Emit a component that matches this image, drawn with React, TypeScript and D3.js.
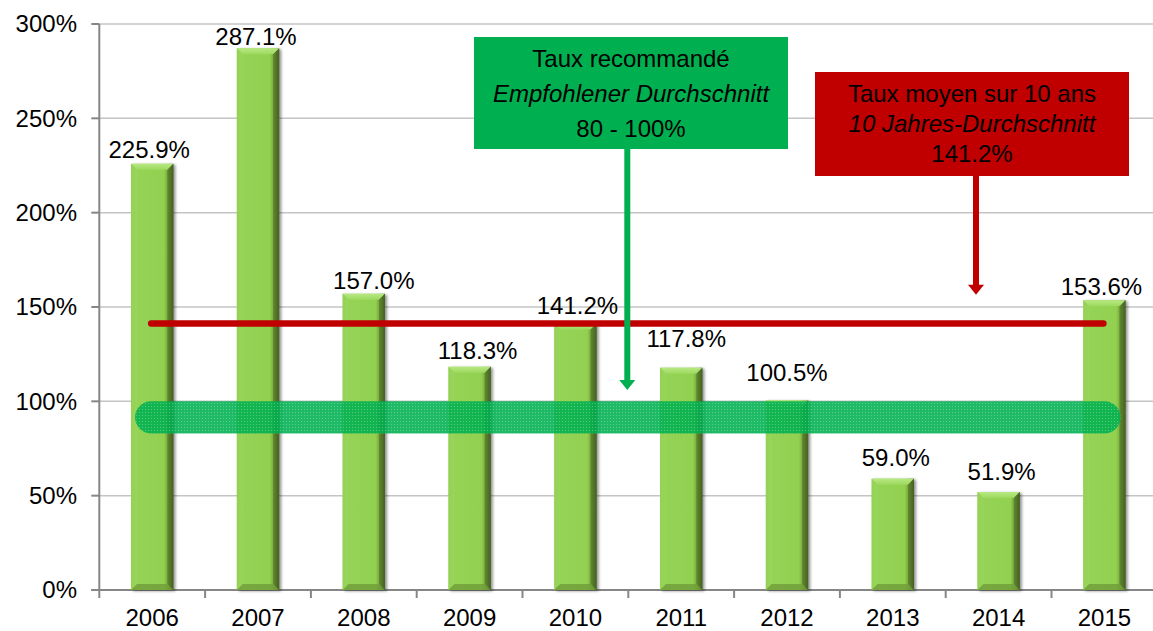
import React from 'react';
import * as d3 from 'd3';

// ---- data ----
const years = ['2006', '2007', '2008', '2009', '2010', '2011', '2012', '2013', '2014', '2015'];
const rates = [225.9, 287.1, 157.0, 118.3, 141.2, 117.8, 100.5, 59.0, 51.9, 153.6];
const yTicks = [0, 50, 100, 150, 200, 250, 300];
const averageRate = 141.2;
const recommendedBand = [83, 100];
const greenBoxLines = ['Taux recommandé', 'Empfohlener Durchschnitt', '80 - 100%'];
const redBoxLines = ['Taux moyen sur 10 ans', '10 Jahres-Durchschnitt', '141.2%'];
// label nudges (layout only)
const labelDx = [-3, -2, 10, 8, 2, 5, 0, 3, 3, -3];
const labelDy = [-6, -3, -5, -8, -10, -21, -19, -13, -12, -5];

const W = 1153;
const H = 631;
const FONT = '"Liberation Sans", Arial, Helvetica, sans-serif';

export default function App() {
  const left = 99.3;
  const right = 1157.3;
  const y = d3.scaleLinear().domain([0, 300]).range([590, 24]);
  const xCat = d3.scaleBand<string>().domain(years).range([left, right]).padding(0);
  const xBar = d3
    .scaleBand<string>()
    .domain(years)
    .range([left, right])
    .paddingInner(0.6)
    .paddingOuter(0.3);
  const bw = xBar.bandwidth();
  const b = 6;

  const bandTop = y(recommendedBand[1]);
  const bandBot = y(recommendedBand[0]);
  const bandH = bandBot - bandTop;
  const bandX0 = (xBar(years[0]) as number) + 4;
  const bandX1 = (xBar(years[years.length - 1]) as number) + bw - 5;

  const avgY = y(averageRate);
  const avgX0 = (xBar(years[0]) as number) + bw / 2 - 1;
  const avgX1 = (xBar(years[years.length - 1]) as number) + bw / 2 - 1;

  const greenBox = { x: 474, y: 37, w: 314, h: 112 };
  const redBox = { x: 815, y: 72, w: 314, h: 104 };
  const gArrowX = (xCat(years[5]) as number) - 1;
  const gArrowTip = y(106);
  const rArrowX = redBox.x + redBox.w / 2 + 4;
  const rArrowTip = y(156.5);

  const arrow = (x: number, y0: number, tip: number, color: string) => (
    <g>
      <rect x={x - 3} y={y0} width={6} height={tip - y0 - 9} fill={color} />
      <path d={`M${x - 8},${tip - 10} L${x + 8},${tip - 10} L${x},${tip} Z`} fill={color} />
    </g>
  );

  return (
    <svg
      width={W}
      height={H}
      style={{ position: 'absolute', left: 0, top: 0, background: '#fff' }}
      fontFamily={FONT}
    >
      <defs>
        <linearGradient id="barBody" x1="0" x2="1" y1="0" y2="0">
          <stop offset="0%" stopColor="#8ac948" />
          <stop offset="15%" stopColor="#95d356" />
          <stop offset="78%" stopColor="#92d050" />
          <stop offset="88%" stopColor="#73a23a" />
          <stop offset="100%" stopColor="#36501a" />
        </linearGradient>
        <linearGradient id="bevelTop" x1="0" x2="0" y1="0" y2="1">
          <stop offset="0%" stopColor="#b8e882" />
          <stop offset="100%" stopColor="#9cd95e" />
        </linearGradient>
        <filter id="shadow" x="-30%" y="-5%" width="160%" height="110%">
          <feGaussianBlur in="SourceAlpha" stdDeviation="1.5" />
          <feOffset dx="2" dy="1" result="off" />
          <feComponentTransfer>
            <feFuncA type="linear" slope="0.45" />
          </feComponentTransfer>
          <feMerge>
            <feMergeNode />
            <feMergeNode in="SourceGraphic" />
          </feMerge>
        </filter>
        <pattern id="dots" width="3" height="3" patternUnits="userSpaceOnUse">
          <rect width="3" height="3" fill="#00b050" fillOpacity="0.88" />
          <rect x="1" y="1" width="1" height="1" fill="#ffffff" fillOpacity="0.28" />
        </pattern>
      </defs>

      {/* gridlines */}
      {yTicks
        .filter((t) => t > 0)
        .map((t) => (
          <line key={t} x1={left} x2={W} y1={y(t)} y2={y(t)} stroke="#c4c4c4" strokeWidth={1.5} />
        ))}

      {/* axes */}
      <line x1={left} x2={left} y1={y(300)} y2={y(0)} stroke="#868686" strokeWidth={2} />
      <line x1={left - 8} x2={W} y1={y(0)} y2={y(0)} stroke="#868686" strokeWidth={2} />
      {yTicks.map((t) => (
        <line key={'yt' + t} x1={left - 8} x2={left} y1={y(t)} y2={y(t)} stroke="#868686" strokeWidth={2} />
      ))}
      {years.map((yr) => (
        <line
          key={'xt' + yr}
          x1={xCat(yr) as number}
          x2={xCat(yr) as number}
          y1={y(0)}
          y2={y(0) + 8}
          stroke="#868686"
          strokeWidth={2}
        />
      ))}
      {yTicks.map((t) => (
        <text key={'yl' + t} x={77} y={y(t)} dy="0.35em" textAnchor="end" fontSize={24} fill="#000">
          {t}%
        </text>
      ))}
      {years.map((yr) => (
        <text
          key={'xl' + yr}
          x={(xCat(yr) as number) + xCat.bandwidth() / 2}
          y={626}
          textAnchor="middle"
          fontSize={24}
          fill="#000"
        >
          {yr}
        </text>
      ))}

      {/* bars */}
      {years.map((yr, i) => {
        const x = xBar(yr) as number;
        const top = y(rates[i]);
        const h = y(0) - top;
        return (
          <g key={'bar' + yr}>
            <rect x={x} y={top} width={bw} height={h} fill="url(#barBody)" filter="url(#shadow)" />
            <path
              d={`M${x},${top} L${x + bw},${top} L${x + bw - b},${top + b} L${x + b},${top + b} Z`}
              fill="url(#bevelTop)"
            />
            <path
              d={`M${x},${top} L${x + b},${top + b} L${x + b},${top + h - b} L${x},${top + h} Z`}
              fill="#9bd75d"
              fillOpacity={0.6}
            />
            <path
              d={`M${x + bw},${top} L${x + bw - b},${top + b} L${x + bw - b},${top + h - b} L${x + bw},${top + h} Z`}
              fill="#4f6e26"
              fillOpacity={0.6}
            />
            <path
              d={`M${x},${top + h} L${x + b},${top + h - b} L${x + bw - b},${top + h - b} L${x + bw},${top + h} Z`}
              fill="#6f9c38"
              fillOpacity={0.8}
            />
          </g>
        );
      })}

      {/* recommended band */}
      <rect
        x={bandX0}
        y={bandTop}
        width={bandX1 - bandX0}
        height={bandH}
        rx={bandH / 2}
        ry={bandH / 2}
        fill="url(#dots)"
      />

      {/* average line */}
      <line x1={avgX0} x2={avgX1} y1={avgY} y2={avgY} stroke="#c00000" strokeWidth={6.5} strokeLinecap="round" />

      {/* value labels */}
      {years.map((yr, i) => (
        <text
          key={'vl' + yr}
          x={(xBar(yr) as number) + bw / 2 + labelDx[i]}
          y={y(rates[i]) + labelDy[i]}
          textAnchor="middle"
          fontSize={24}
          fill="#000"
        >
          {rates[i].toFixed(1)}%
        </text>
      ))}

      {/* green annotation */}
      <rect x={greenBox.x} y={greenBox.y} width={greenBox.w} height={greenBox.h} fill="#00b050" />
      {greenBoxLines.map((s, i) => (
        <text
          key={'g' + i}
          x={greenBox.x + greenBox.w / 2}
          y={greenBox.y + 30 + i * 35}
          textAnchor="middle"
          fontSize={24}
          fontStyle={i === 1 ? 'italic' : 'normal'}
          fill="#000"
        >
          {s}
        </text>
      ))}
      {arrow(gArrowX, greenBox.y + greenBox.h, gArrowTip, '#00b050')}

      {/* red annotation */}
      <rect x={redBox.x} y={redBox.y} width={redBox.w} height={redBox.h} fill="#c00000" />
      {redBoxLines.map((s, i) => (
        <text
          key={'r' + i}
          x={redBox.x + redBox.w / 2}
          y={redBox.y + 30 + i * 30}
          textAnchor="middle"
          fontSize={24}
          fontStyle={i === 1 ? 'italic' : 'normal'}
          fill="#000"
        >
          {s}
        </text>
      ))}
      {arrow(rArrowX, redBox.y + redBox.h, rArrowTip, '#c00000')}
    </svg>
  );
}
